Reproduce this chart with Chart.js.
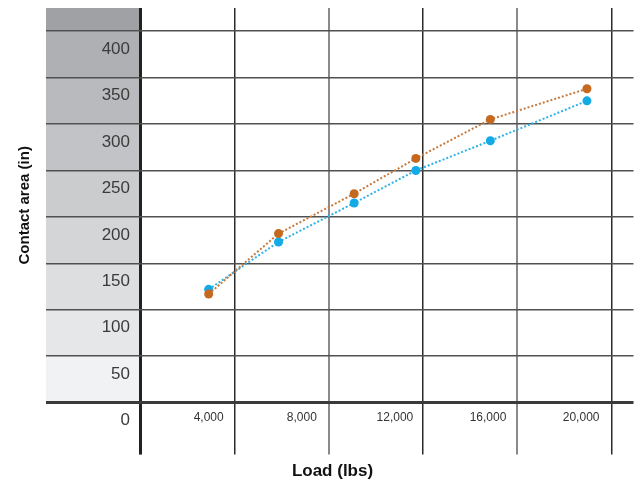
<!DOCTYPE html>
<html>
<head>
<meta charset="utf-8">
<script src="https://cdn.jsdelivr.net/npm/chart.js@4"></script>
<style>
  html,body{margin:0;padding:0;background:#fff}
  #wrap{width:638px;height:483px;position:relative}
</style>
</head>
<body>
<div id="wrap"><canvas id="c"></canvas></div>
<script>
// ─── DATA ───
const loads       = [4000, 7000, 10250, 12900, 16100, 20250];
const areaOrange  = [117, 182, 225, 263, 305, 338];
const areaBlue    = [122, 173, 215, 250, 282, 325];
const loadTicks   = [4000, 8000, 12000, 16000, 20000];
const loadGrid    = [1050, 5100, 9150, 13200, 17250, 21300];
const areaTicks   = [0, 50, 100, 150, 200, 250, 300, 350, 400];
const bandEdges   = [0, 50, 100, 150, 200, 250, 300, 350, 400, 425];
const bandColors  = ['#f1f2f3','#e6e7e8','#dddee0','#d4d5d7','#cbccce','#c2c3c6','#b9babd','#afb0b3','#a0a1a4'];

const BAND_W = 94;     // grey label column, also y tick length
const X_TICK = 52;     // vertical lines run under the axis

const bandPlugin = {
  id:'bands',
  beforeDraw(chart){
    const {ctx, chartArea, scales:{y}} = chart;
    ctx.save();
    for(let i=0;i<bandColors.length;i++){
      const top=y.getPixelForValue(bandEdges[i+1]), bot=y.getPixelForValue(bandEdges[i]);
      ctx.fillStyle=bandColors[i];
      ctx.fillRect(chartArea.left-BAND_W, top, BAND_W, bot-top);
    }
    ctx.restore();
  }
};

const gridStyle = v => {
  const i = loadGrid.indexOf(v);
  if(i<0) return {c:'rgba(0,0,0,0)', w:0};
  if(i===0) return {c:'#222', w:3};
  return i%2 ? {c:'#2b2b2b', w:1.5} : {c:'#8a8a8a', w:2};
};

new Chart(document.getElementById('c').getContext('2d'),{
  type:'line',
  data:{datasets:[
    {label:'A', data:loads.map((x,i)=>({x, y:areaOrange[i]})),
     borderColor:'#c8793a', backgroundColor:'#c4691f', pointBackgroundColor:'#c4691f',
     pointBorderWidth:0, pointRadius:4.5, borderWidth:2, borderDash:[2,2], fill:false, tension:0},
    {label:'B', data:loads.map((x,i)=>({x, y:areaBlue[i]})),
     borderColor:'#2fb2e8', backgroundColor:'#13aae6', pointBackgroundColor:'#13aae6',
     pointBorderWidth:0, pointRadius:4.5, borderWidth:2, borderDash:[2,2], fill:false, tension:0}
  ]},
  options:{
    responsive:true, maintainAspectRatio:false, animation:false,
    layout:{padding:{left:29, right:2, top:8, bottom:0}},
    plugins:{
      legend:{display:false}, tooltip:{enabled:false},
      title:{display:true, position:'bottom', text:'Load (lbs)', color:'#111',
        font:{family:'Liberation Sans', size:17, weight:'bold'}, padding:{top:0, bottom:1}}
    },
    scales:{
      x:{type:'linear', min:loadGrid[0], max:22250,
        border:{display:false},
        afterBuildTicks:s=>{ s.ticks=[...loadGrid, ...loadTicks].sort((a,b)=>a-b).map(v=>({value:v})); },
        afterFit:s=>{ s.height=59; },
        grid:{drawOnChartArea:true, drawTicks:true, tickLength:X_TICK,
          color:c=>gridStyle(c.tick.value).c, lineWidth:c=>gridStyle(c.tick.value).w,
          tickColor:c=>gridStyle(c.tick.value).c, tickWidth:c=>gridStyle(c.tick.value).w},
        ticks:{autoSkip:false, maxRotation:0, padding:-44, color:'#333',
          font:{family:'Liberation Sans', size:12},
          callback:v=>loadTicks.includes(v)?v.toLocaleString('en-US'):''}
      },
      y:{type:'linear', min:0, max:425,
        border:{display:false},
        afterBuildTicks:s=>{ s.ticks=areaTicks.map(v=>({value:v})); },
        afterFit:s=>{ s.width=111; },
        grid:{drawTicks:true, tickLength:BAND_W,
          color:c=>c.tick.value===0?'#3a3a3a':'#505050',
          lineWidth:c=>c.tick.value===0?3:1.5},
        ticks:{padding:-84, labelOffset:18, color:'#3b3b3b',
          font:{family:'Liberation Sans', size:17}},
        title:{display:true, text:'Contact area (in)', color:'#111',
          font:{family:'Liberation Sans', size:15, weight:'bold'}, padding:{top:-13.5, bottom:0}}
      }
    }
  },
  plugins:[bandPlugin]
});
</script>
</body>
</html>
